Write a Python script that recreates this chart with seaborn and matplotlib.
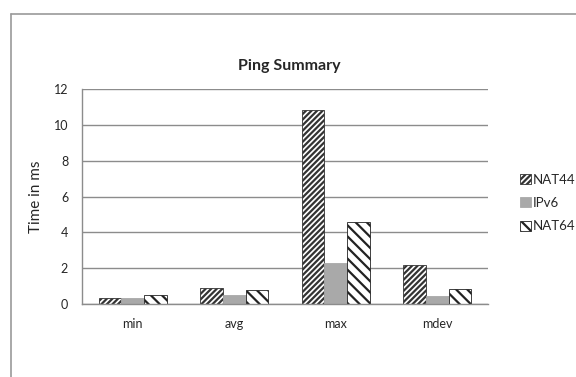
import pandas as pd
import matplotlib.pyplot as plt
import seaborn as sns
from matplotlib.lines import Line2D

# values (ms)
stats = ["min", "avg", "max", "mdev"]
protocols = ["NAT44", "IPv6", "NAT64"]
nat44 = [0.35, 0.9, 10.85, 2.15]
ipv6 = [0.35, 0.5, 2.3, 0.45]
nat64 = [0.5, 0.8, 4.55, 0.85]

df = pd.DataFrame({
    "stat": stats * 3,
    "protocol": ["NAT44"] * 4 + ["IPv6"] * 4 + ["NAT64"] * 4,
    "time": nat44 + ipv6 + nat64,
})

sns.set_style("white")
plt.rcParams["font.family"] = ["Lato", "DejaVu Sans"]
plt.rcParams["hatch.linewidth"] = 1.6

fig = plt.figure(figsize=(5.76, 3.77), dpi=100)
ax = fig.add_axes([0.1424, 0.1936, 0.7049, 0.5703])

sns.barplot(data=df, x="stat", y="time", hue="protocol", hue_order=protocols,
            order=stats, width=0.67, gap=0, legend=False, ax=ax,
            palette=["white", "#a9a9a9", "white"], saturation=1)

hatches = ["//////", None, "\\\\\\"]
edges = ["#333333", "#a9a9a9", "#222222"]
for cont, h, ec in zip(ax.containers, hatches, edges):
    for bar in cont:
        bar.set_hatch(h)
        bar.set_edgecolor(ec)
        bar.set_linewidth(0.6)

ax.set_ylim(0, 12)
ax.set_yticks(range(0, 13, 2))
ax.set_xlim(-0.5, 3.5)
ax.grid(axis="y", color="#8c8c8c", linewidth=1)
ax.set_axisbelow(True)
for s in ["top", "right"]:
    ax.spines[s].set_visible(False)
ax.spines["left"].set_color("#8c8c8c")
ax.spines["bottom"].set_color("#8c8c8c")
ax.spines["left"].set_linewidth(1)
ax.spines["bottom"].set_linewidth(1)

ax.set_xticks([-0.5, 0.5, 1.5, 2.5, 3.5], minor=True)
ax.tick_params(axis="x", which="major", length=0, labelsize=9, pad=10)
ax.tick_params(axis="x", which="minor", length=5, color="#8c8c8c", width=1)
ax.tick_params(axis="y", length=5, color="#8c8c8c", width=1, labelsize=9, pad=5)
ax.set_xlabel("")
ax.set_ylabel("Time in ms", fontsize=11, labelpad=8)

fig.text(0.503, 0.826, "Ping Summary", ha="center", va="center",
         fontsize=11.5, fontweight="bold")

ax.legend(ax.containers, protocols, loc="center left",
          bbox_to_anchor=(1.05, 0.47), frameon=False, fontsize=9.5,
          handlelength=0.8, handleheight=0.8, handletextpad=0.15,
          labelspacing=0.85)

# outer chart frame (top and left edges visible)
fig.add_artist(Line2D([0.019, 1.0], [0.963, 0.963], color="#9a9a9a", lw=1.2))
fig.add_artist(Line2D([0.019, 0.019], [0.0, 0.963], color="#9a9a9a", lw=1.2))

fig.savefig("out.png", dpi=100)
